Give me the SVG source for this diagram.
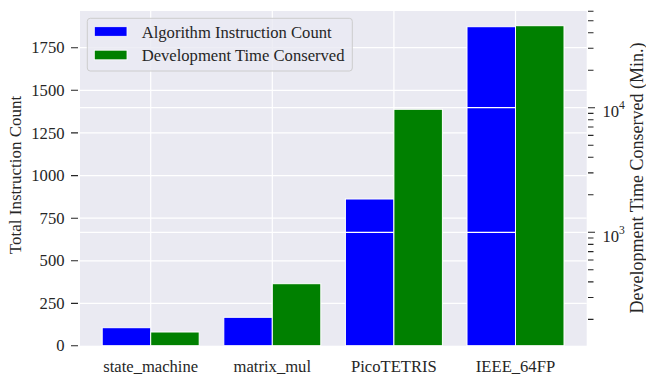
<svg xmlns="http://www.w3.org/2000/svg" width="646" height="376" viewBox="0 0 646 376">
<style>
text{font-family:"Liberation Serif","Times New Roman",serif;font-size:16.6px;fill:#262626}
.grid{stroke:#ffffff;stroke-width:1.2;fill:none}
.blue{fill:#0000ff;stroke:#ffffff;stroke-width:1}
.green{fill:#008000;stroke:#ffffff;stroke-width:1}
.tick{stroke:#262626;stroke-width:1.1}
.yl{text-anchor:end}
.xl{text-anchor:middle}
</style>
<rect x="0" y="0" width="646" height="376" fill="#ffffff"/>
<rect id="plot-bg" x="80" y="11" width="506.7" height="334.7" fill="#eaeaf2"/>
<g id="grid-left" class="grid">
<path d="M80 47.7H586.7M80 90.3H586.7M80 132.9H586.7M80 175.6H586.7M80 218.2H586.7M80 260.8H586.7M80 303.4H586.7"/>
<path d="M150.7 11V345.7M272.3 11V345.7M393.9 11V345.7M515.5 11V345.7"/>
</g>
<g id="bars-instr">
<rect id="b-state" class="blue" x="102.2" y="327.7" width="48.5" height="18"/>
<rect id="b-matrix" class="blue" x="223.8" y="317.3" width="48.5" height="28.4"/>
<rect id="b-pico" class="blue" x="345.4" y="199" width="48.5" height="146.7"/>
<rect id="b-ieee" class="blue" x="467" y="26.7" width="48.5" height="319"/>
</g>
<g id="legend">
<rect x="87.3" y="18.3" width="265" height="52.7" rx="3" fill="#eaeaf2" fill-opacity="0.8" stroke="#cccccc" stroke-width="1"/>
<rect x="94.3" y="26.7" width="32.7" height="9.6" fill="#0000ff" stroke="#ffffff" stroke-width="0.8"/>
<rect x="94.3" y="50.2" width="32.7" height="9.6" fill="#008000" stroke="#ffffff" stroke-width="0.8"/>
<text x="141.7" y="37.5">Algorithm Instruction Count</text>
<text x="141.7" y="60.8">Development Time Conserved</text>
</g>
<g id="grid-right" class="grid">
<path d="M80 107.7H586.7M80 232.3H586.7"/>
</g>
<g id="bars-time">
<rect id="g-state" class="green" x="150.7" y="332" width="48.5" height="13.7"/>
<rect id="g-matrix" class="green" x="272.3" y="283.7" width="48.5" height="62"/>
<rect id="g-pico" class="green" x="393.9" y="109.3" width="48.5" height="236.4"/>
<rect id="g-ieee" class="green" x="515.5" y="25.7" width="48.5" height="320"/>
</g>
<g id="left-axis">
<path class="tick" d="M71 345.7H78M71 303.4H78M71 260.8H78M71 218.2H78M71 175.6H78M71 132.9H78M71 90.3H78M71 47.7H78"/>
<text class="yl" x="64.5" y="351.3">0</text>
<text class="yl" x="64.5" y="309">250</text>
<text class="yl" x="64.5" y="266.4">500</text>
<text class="yl" x="64.5" y="223.8">750</text>
<text class="yl" x="64.5" y="181.2">1000</text>
<text class="yl" x="64.5" y="138.5">1250</text>
<text class="yl" x="64.5" y="95.9">1500</text>
<text class="yl" x="64.5" y="53.3">1750</text>
<text class="xl" transform="translate(21 175) rotate(-90)" style="font-size:17px">Total Instruction Count</text>
</g>
<g id="right-axis">
<path class="tick" d="M588 232.3H595M588 107.7H595"/>
<path class="tick" d="M588 319.4H593.5M588 297.5H593.5M588 281.9H593.5M588 269.8H593.5M588 260H593.5M588 251.6H593.5M588 244.4H593.5M588 238H593.5M588 194.8H593.5M588 172.9H593.5M588 157.3H593.5M588 145.3H593.5M588 135.4H593.5M588 127H593.5M588 119.8H593.5M588 113.4H593.5M588 70.2H593.5M588 48.3H593.5M588 32.7H593.5M588 20.7H593.5M588 11.2H593.5"/>
<text x="602.5" y="117.2">10<tspan font-size="11.6px" dy="-8.5">4</tspan></text>
<text x="602.5" y="242">10<tspan font-size="11.6px" dy="-8.5">3</tspan></text>
<text class="xl" transform="translate(642.5 178) rotate(-90)" style="font-size:18px">Development Time Conserved (Min.)</text>
</g>
<g id="x-axis">
<text class="xl" x="150.7" y="372">state_machine</text>
<text class="xl" x="272.3" y="372">matrix_mul</text>
<text class="xl" x="393.9" y="372">PicoTETRIS</text>
<text class="xl" x="515.5" y="372">IEEE_64FP</text>
</g>
</svg>
